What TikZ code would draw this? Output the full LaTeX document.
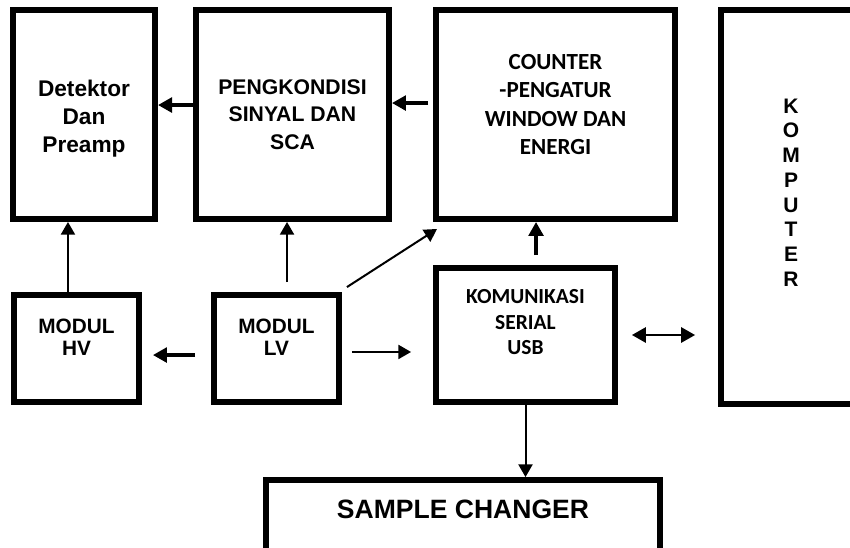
\documentclass[tikz,border=0pt]{standalone}
\usepackage{fontspec}
\setmainfont{Liberation Sans}
\newfontfamily\carlito{Carlito}
\usetikzlibrary{arrows.meta}

\begin{document}
\begin{tikzpicture}[x=0.75pt,y=-0.75pt,
  blk/.style={draw, line width=4.4pt, fill=white, inner sep=0pt, rectangle},
  txt/.style={align=center, inner sep=0pt},
  thinarr/.style={line width=1.5pt, -{Triangle[length=9.5pt,width=10.5pt]}},
  thickarr/.style={line width=2.8pt, -{Triangle[length=10.5pt,width=11pt]}},
  duoarr/.style={line width=1.5pt, {Triangle[length=10.5pt,width=11.5pt]}-{Triangle[length=10.5pt,width=11.5pt]}},
]
\useasboundingbox (0,0) rectangle (850,547);
\fill[white] (0,0) rectangle (850,547);
\clip (0,0) rectangle (850,547);

% top row
\node[blk, minimum width=106.6pt, minimum height=156.8pt] (det) at (84,114.5) {};
\node[txt, name=detT, yshift=-3.4pt, font=\bfseries\fontsize{17}{21}\selectfont] at (det.center)
  {Detektor\\Dan\\Preamp};
\node[blk, minimum width=144.8pt, minimum height=156.8pt] (peng) at (292.5,114.5) {};
\node[txt, name=pengT, font=\bfseries\fontsize{15.9}{20.8}\selectfont] at (peng.center)
  {PENGKONDISI\\SINYAL DAN\\SCA};
\node[blk, minimum width=179.3pt, minimum height=156.8pt] (cnt) at (555.5,114.5) {};
\node[txt, name=cntT, yshift=7.5pt, font=\carlito\bfseries\fontsize{17.3}{21.4}\selectfont] at (cnt.center)
  {COUNTER\\-PENGATUR\\WINDOW DAN\\ENERGI};

% computer column, running off the right edge
\node[blk, minimum width=105pt, minimum height=295.5pt] (pc) at (791,207) {};
\node[txt, name=pcT, yshift=10.8pt, font=\bfseries\fontsize{15.75}{18.57}\selectfont] at (pc.center)
  {K\\O\\M\\P\\U\\T\\E\\R};

% middle row
\node[blk, minimum width=93.75pt, minimum height=80.25pt] (hv) at (76.5,348.5) {};
\node[txt, name=hvT, yshift=8.6pt, font=\bfseries\fontsize{15.6}{16.8}\selectfont] at (hv.center)
  {MODUL\\HV};
\node[blk, minimum width=93.75pt, minimum height=80.25pt] (lv) at (276.5,348.5) {};
\node[txt, name=lvT, yshift=8.6pt, font=\bfseries\fontsize{15.6}{16.8}\selectfont] at (lv.center)
  {MODUL\\LV};
\node[blk, minimum width=134.25pt, minimum height=100.5pt] (usb) at (525.5,335) {};
\node[txt, name=usbT, yshift=9.4pt, font=\carlito\bfseries\fontsize{16.1}{19.1}\selectfont] at (usb.center)
  {KOMUNIKASI\\SERIAL\\USB};

% bottom box, running off the lower edge
\node[blk, minimum width=295.5pt, minimum height=57.75pt] (smp) at (463,518.5) {};
\node[txt, name=smpT, yshift=6.75pt, font=\bfseries\fontsize{19.9}{24}\selectfont] at (smp.center)
  {SAMPLE CHANGER};

% signal flow
\draw[thickarr] ([yshift=7.1pt]peng.west) -- ([yshift=7.1pt]det.east);
\draw[thickarr] ([xshift=-3.75pt,yshift=8.6pt]cnt.west) -- ([yshift=8.6pt]peng.east);
\draw[thinarr] ([xshift=-6.4pt]hv.north) -- ([xshift=-6.4pt]hv.north |- det.south);
\draw[thinarr] ([xshift=7.9pt,yshift=7.5pt]lv.north) -- ([xshift=7.9pt]lv.north |- peng.south);
\draw[thinarr] ([xshift=3.75pt,yshift=3.75pt]lv.north east) -- ([xshift=3pt,yshift=-5.25pt]cnt.south west);
\draw[thickarr] ([xshift=7.9pt,yshift=7.5pt]usb.north) -- ([xshift=7.9pt]usb.north |- cnt.south);
\draw[thickarr] ([xshift=-12pt,yshift=-4.9pt]lv.west) -- ([xshift=8.25pt,yshift=-4.9pt]hv.east);
\coordinate (lvOut) at ([xshift=7.5pt,yshift=-2.6pt]lv.east);
\draw[thinarr] (lvOut) -- ([xshift=-16.5pt]usb.west |- lvOut);
\draw[duoarr] ([xshift=10.5pt]usb.east) -- ([xshift=-17.25pt]pc.west |- usb.east);
\draw[thinarr] (usb.south) -- (usb.south |- smp.north);
\end{tikzpicture}
\end{document}
